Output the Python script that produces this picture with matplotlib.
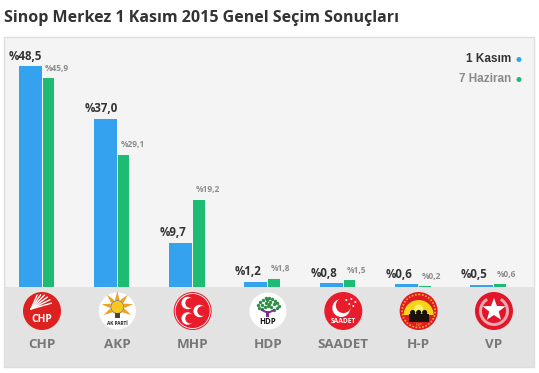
import numpy as np
import matplotlib
matplotlib.use("Agg")
import matplotlib.pyplot as plt
from matplotlib.patches import Circle, Rectangle, Wedge, Polygon

# Data
parties = ["CHP", "AKP", "MHP", "HDP", "SAADET", "H-P", "VP"]
kasim_values = [48.5, 37.0, 9.7, 1.2, 0.8, 0.6, 0.5]
haziran_values = [45.9, 29.1, 19.2, 1.8, 1.5, 0.2, 0.6]
title = "Sinop Merkez 1 Kasım 2015 Genel Seçim Sonuçları"
legend_labels = ["1 Kasım", "7 Haziran"]

W, H = 539, 373
BLUE = "#35a2ef"
GREEN = "#1ebc72"
RED = "#e81c2b"

fig = plt.figure(figsize=(W / 100, H / 100), dpi=100, facecolor="white")

# Pixel-space layer for the panel, legend and logos
bg = fig.add_axes([0, 0, 1, 1], zorder=0)
bg.set_xlim(0, W)
bg.set_ylim(H, 0)
bg.axis("off")
bg.add_patch(Rectangle((4, 37), 530, 250, fc="#f4f4f4", ec="none"))
bg.add_patch(Rectangle((4, 287), 530, 80, fc="#e3e3e3", ec="none"))
bg.plot([4, 4, 534, 534, 4], [367, 37, 37, 367, 367], color="#dedede", lw=1)

bg.text(4, 18, title, fontsize=11.5, fontweight="bold", family="Open Sans",
        color="#333333", va="center", ha="left")

# Bars
px_per_group = 75.33
first_center = 41.5
ax = fig.add_axes([4 / W, (H - 287) / H, 530 / W, 250 / H], zorder=1)
ax.patch.set_alpha(0)
ax.set_xlim((4 - first_center) / px_per_group, (534 - first_center) / px_per_group)
ax.set_ylim(0, 250 / 4.55)
ax.axis("off")

x = np.arange(len(parties))
blue_w = 23 / px_per_group
green_w = 11.5 / px_per_group
gap = 1 / px_per_group
ax.bar(x - blue_w / 2, kasim_values, blue_w, color=BLUE)
ax.bar(x + gap + green_w / 2, haziran_values, green_w, color=GREEN)

for i, (a, b) in enumerate(zip(kasim_values, haziran_values)):
    ax.annotate("%" + f"{a:.1f}".replace(".", ","), (i, a), xytext=(-32.5 * 0.72, 7.2),
                textcoords="offset points", ha="left", va="center", fontsize=8.3,
                fontweight="bold", family="Open Sans", color="#333333")
    ax.annotate("%" + f"{b:.1f}".replace(".", ","), (i, b), xytext=(3.5 * 0.72, 7.2),
                textcoords="offset points", ha="left", va="center", fontsize=6,
                fontweight="bold", family="Open Sans", color="#8c8c8c")

# Legend
bg.text(511, 59, legend_labels[0], ha="right", va="center", fontsize=8.5,
        fontweight="bold", family="Liberation Sans", color="#333333")
bg.text(511, 79, legend_labels[1], ha="right", va="center", fontsize=8.5,
        fontweight="bold", family="Liberation Sans", color="#8a8a8a")
bg.add_patch(Circle((519, 59.5), 2.5, fc=BLUE, ec="none"))
bg.add_patch(Circle((519, 79.5), 2.5, fc=GREEN, ec="none"))


def crescent(cx, cy, r, angle, color=RED, inner=0.8, shift=0.42):
    # angle is measured in pixel space, y pointing down
    dx, dy = np.cos(np.radians(angle)), np.sin(np.radians(angle))
    bg.add_patch(Circle((cx, cy), r, fc="white", ec="none", zorder=3))
    bg.add_patch(Circle((cx + dx * r * shift, cy + dy * r * shift), r * inner, fc=color, ec="none", zorder=3))


def logo_chp(c, y):
    bg.add_patch(Circle((c, y), 19, fc="#dd2020", ec="none", zorder=2))
    for ang, length in zip([16, 26, 36, 46, 56, 66], [21, 21, 20, 19, 17, 15]):
        a = np.radians(ang)
        x0, y0 = c - 11, y - 2
        bg.plot([x0, x0 + length * np.cos(a)], [y0, y0 - length * np.sin(a)],
                color="white", lw=1.0, zorder=3)
    bg.text(c, y + 8.5, "CHP", color="white", fontsize=7.4, fontweight="bold", family="Open Sans",
            ha="center", va="center", zorder=4)


def logo_akp(c, y):
    bg.add_patch(Circle((c, y), 18.5, fc="white", ec="none", zorder=2))
    for ang in [90, 50, 130, 10, 170, -30, 210]:
        a = np.radians(ang)
        tip = (c + 16 * np.cos(a), y - 4 - 16 * np.sin(a))
        n = np.array([-np.sin(a), -np.cos(a)]) * 2.2
        base = np.array([c + 7 * np.cos(a), y - 4 - 7 * np.sin(a)])
        bg.add_patch(Polygon([tip, base + n, base - n], fc="#f0a020", ec="none", zorder=3))
    bg.add_patch(Circle((c, y - 4), 6.5, fc="#f7c81e", ec="#666666", lw=0.5, zorder=4))
    bg.add_patch(Rectangle((c - 2.5, y + 2), 5, 5, fc="#444444", ec="none", zorder=4))
    bg.text(c, y + 12.5, "AK PARTİ", color="#222222", fontsize=3.4, fontweight="bold",
            family="Open Sans", ha="center", va="center", zorder=4)


def logo_mhp(c, y):
    bg.add_patch(Circle((c, y), 19, fc=RED, ec="none", zorder=2))
    bg.add_patch(Circle((c, y), 17.5, fc="none", ec="white", lw=0.6, zorder=3))
    crescent(c - 5, y - 8, 6.2, 0)
    crescent(c - 5, y + 7.5, 6.2, 0)
    crescent(c + 7, y, 6.2, 0)


def logo_hdp(c, y):
    bg.add_patch(Circle((c, y), 18.5, fc="white", ec="none", zorder=2))
    leaf_x = [-10, -8, -5, -2, 1, 4, 7, 9, 11, -9, -6, -2, 2, 6, 9, -6, -3, 0, 3, 6, -1, 1]
    leaf_y = [-6, -9, -11, -13, -13, -12, -10, -8, -5, -3, -6, -8, -9, -7, -3, -2, -4, -5, -4, -1, -11, -7]
    bg.scatter([c + v for v in leaf_x], [y + v for v in leaf_y], s=6, c="#2f8f46", lw=0, zorder=3)
    bg.plot([c - 6, c, c + 6], [y - 1, y + 2, y - 1], color="#7b2d8b", lw=1.4, zorder=3)
    bg.add_patch(Rectangle((c - 1.5, y), 3, 6, fc="#7b2d8b", ec="none", zorder=3))
    bg.text(c, y + 11, "HDP", color="#111111", fontsize=5.6, fontweight="bold", family="Open Sans",
            ha="center", va="center", zorder=4)


def logo_saadet(c, y):
    bg.add_patch(Circle((c, y), 19, fc=RED, ec="none", zorder=2))
    crescent(c - 2, y - 3, 9, -50, inner=0.84, shift=0.36)
    for dx, dy in [(3, -11), (8, -12), (12, -9), (6, -7), (10, -5)]:
        bg.add_patch(Circle((c + dx, y + dy), 1, fc="white", ec="none", zorder=4))
    bg.text(c, y + 10.5, "SAADET", color="white", fontsize=4.8, fontweight="bold", family="Open Sans",
            ha="center", va="center", zorder=4)


def logo_hp(c, y):
    bg.add_patch(Circle((c, y), 19, fc="#e01b24", ec="none", zorder=2))
    bg.add_patch(Circle((c, y), 16.5, fc="none", ec="#f2b21c", lw=1.2, ls=(0, (1, 1)), zorder=3))
    bg.add_patch(Wedge((c, y + 4), 15, 180, 360, fc="#f6d41c", ec="none", zorder=3))
    bg.add_patch(Circle((c, y - 2), 4.5, fc="#fff06a", ec="none", zorder=4))
    bg.add_patch(Rectangle((c - 10, y + 3), 20, 8, fc="#1a1208", ec="none", zorder=5))
    for dx in (-6, 0, 6):
        bg.add_patch(Circle((c + dx, y + 1.5), 2.6, fc="#1a1208", ec="none", zorder=5))
    bg.text(c, y + 13.5, "H-P", color="#f6d41c", fontsize=3, family="Open Sans",
            ha="center", va="center", zorder=5)


def logo_vp(c, y):
    bg.add_patch(Circle((c, y), 19, fc="#e2152a", ec="none", zorder=2))
    # y axis is flipped, so the open top of the wreath sits around 270 degrees
    bg.add_patch(Wedge((c, y), 15, -60, 240, width=3, fc="#e9a9ad", ec="none", zorder=3))
    angles = np.radians(np.arange(0, 360, 36) - 90)
    radii = np.tile([12, 5], 5)
    bg.add_patch(Polygon(np.c_[c + radii * np.cos(angles), y - 1 + radii * np.sin(angles)],
                         fc="white", ec="none", zorder=4))


logo_funcs = [logo_chp, logo_akp, logo_mhp, logo_hdp, logo_saadet, logo_hp, logo_vp]
for i, (name, func) in enumerate(zip(parties, logo_funcs)):
    cx = 42 + i * px_per_group
    func(cx, 311)
    bg.text(cx, 345, name, ha="center", va="center", fontsize=9.6, fontweight="bold",
            family="Open Sans", color="#777777")

fig.savefig("out.png", dpi=100)
